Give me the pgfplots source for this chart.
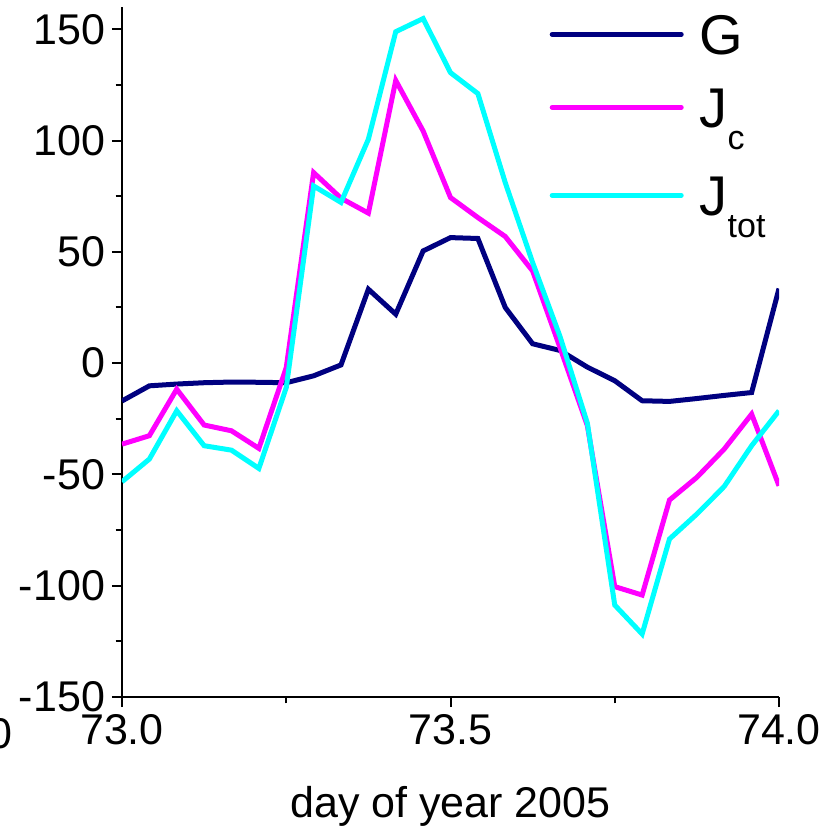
\documentclass[border=0pt]{standalone}
\usepackage{pgfplots}
\usepackage{pgfplotstable}
\pgfplotsset{compat=1.18}
\usepackage{fontspec}
\setmainfont{Liberation Sans}
\usetikzlibrary{calc}
\definecolor{gnavy}{RGB}{0,0,128}
\definecolor{jmag}{RGB}{255,0,255}
\definecolor{jcyan}{RGB}{0,255,255}

\pgfplotstableread{
x G Jc Jtot
73.000000 -17.0 -36.4 -53.3
73.041667 -10.2 -32.6 -43.1
73.083333 -9.4 -11.7 -21.4
73.125000 -8.8 -27.8 -37.1
73.166667 -8.5 -30.4 -39.1
73.208333 -8.6 -38.3 -47.3
73.250000 -8.8 -2.0 -11.0
73.291667 -5.7 85.6 79.6
73.333333 -0.8 74.1 72.2
73.375000 33.2 67.4 100.6
73.416667 22.0 127.0 148.9
73.458333 50.4 104.3 154.8
73.500000 56.4 74.4 130.5
73.541667 56.0 65.4 121.1
73.583333 25.0 56.9 81.1
73.625000 8.7 41.4 45.2
73.666667 5.7 7.0 12.0
73.708333 -1.8 -28.1 -27.0
73.750000 -7.9 -100.4 -108.7
73.791667 -16.9 -104.2 -121.7
73.833333 -17.2 -61.5 -79.0
73.875000 -15.9 -51.3 -67.8
73.916667 -14.5 -38.6 -55.4
73.958333 -13.2 -22.9 -37.1
74.000000 33.5 -55.1 -21.4
}\data

\begin{document}
\begin{tikzpicture}
\begin{axis}[
  name=ax,
  scale only axis,
  width=328.5pt, height=345pt,
  xmin=73, xmax=74, ymin=-150, ymax=160,
  axis x line*=bottom, axis y line*=left,
  axis line style={-, line width=1pt, black},
  tick align=outside,
  major tick length=5pt, minor tick length=3.2pt,
  every tick/.style={black, line width=1pt},
  xtick={73,73.5,74}, xticklabels={73.0,73.5,74.0},
  minor xtick={73.25,73.75},
  ytick={-150,-100,-50,0,50,100,150},
  yticklabels={-150,-100,-50,0,50,100,150},
  minor ytick={-125,-75,-25,25,75,125},
  tick label style={font=\fontsize{21.5}{24}\selectfont},
  xlabel={day of year 2005},
  xlabel style={font=\fontsize{21.5}{24}\selectfont, at={(axis description cs:0.5,-0.1739)}, anchor=base},
  legend style={at={(axis description cs:0.651,0.988)}, anchor=north west,
    draw=none, fill=none, inner sep=0pt, outer sep=0pt,
    font=\fontsize{28}{30}\selectfont, row sep=0pt, column sep=8pt,
    cells={anchor=base west}, nodes={inner sep=0pt}},
  legend image code/.code={\draw[#1, line cap=round] (1.25pt,10pt) -- (65.75pt,10pt);},
]
\addplot[gnavy, line width=2.5pt] table[x=x, y=G] {\data};
\addlegendentry{G}
\addplot[jmag, line width=2.5pt] table[x=x, y=Jc] {\data};
\addlegendentry{\rule{0pt}{35pt}J\raisebox{-11pt}{\fontsize{17}{17}\selectfont c}}
\addplot[jcyan, line width=2.5pt] table[x=x, y=Jtot] {\data};
\addlegendentry{\rule{0pt}{42.5pt}J\raisebox{-11pt}{\fontsize{17}{17}\selectfont tot}}
\end{axis}
\node[anchor=base east, font=\fontsize{21.5}{24}\selectfont, inner sep=0pt] at ($(ax.south west)+(-54.5pt,-25.5pt)$) {0};
\pgfresetboundingbox
\path ($(ax.south west)+(-61pt,-67pt)$) rectangle ++(419.5pt,415.5pt);
\end{tikzpicture}
\end{document}
